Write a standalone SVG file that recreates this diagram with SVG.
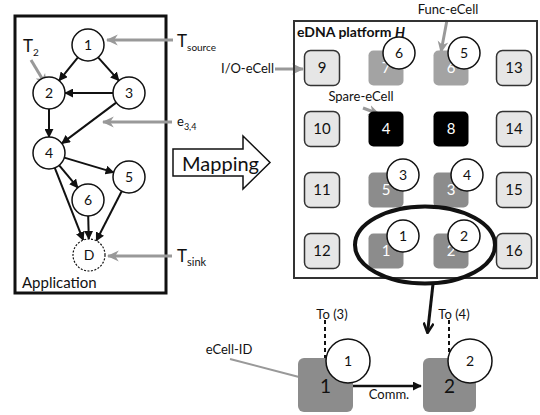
<svg xmlns="http://www.w3.org/2000/svg" width="540" height="415" viewBox="0 0 540 415">
<style>
text{font-family:Lato,"Open Sans","Liberation Sans",sans-serif;fill:#111}
.n{fill:#fff;stroke:#111;stroke-width:1.5}
.nt{font-size:14px;text-anchor:middle}
.e{stroke:#111;stroke-width:2;fill:none;marker-end:url(#ah)}
.g{stroke:#999;stroke-width:3;fill:none;marker-end:url(#gh)}
.lc{fill:#e6e6e6;stroke:#333;stroke-width:1.5}
.gc{fill:#a3a3a3}
.dc{fill:#8c8c8c}
.bc{fill:#000}
.ct{font-size:15px;text-anchor:middle}
.wt{font-size:15px;text-anchor:middle;fill:#fff}
.lbl{font-size:13px}
</style>
<defs>
<marker id="ah" viewBox="0 0 10 10" refX="9" refY="5" markerWidth="9" markerHeight="9" markerUnits="userSpaceOnUse" orient="auto"><path d="M0,0 L10,5 L0,10 z" fill="#111"/></marker>
<marker id="gh" viewBox="0 0 10 10" refX="9" refY="5" markerWidth="12" markerHeight="12" markerUnits="userSpaceOnUse" orient="auto"><path d="M0,0.5 L10,5 L0,9.5 L3,5 z" fill="#999"/></marker>
<marker id="vh" viewBox="0 0 12 12" refX="11" refY="6" markerWidth="12" markerHeight="12" markerUnits="userSpaceOnUse" orient="auto"><path d="M1,1 L11,6 L1,11" fill="none" stroke="#111" stroke-width="2.5"/></marker>
</defs>

<g id="application">
<rect x="15" y="16" width="151" height="277" fill="none" stroke="#111" stroke-width="3"/>
<text x="22" y="288" font-size="15">Application</text>
</g>

<g id="connectors">
<line class="e" x1="77.9" y1="57.4" x2="59.1" y2="80.6"/>
<line class="e" x1="98.1" y1="57.4" x2="118.9" y2="80.6"/>
<line class="e" x1="113" y1="93" x2="65" y2="93"/>
<line class="e" x1="49" y1="109" x2="49" y2="137"/>
<line class="e" x1="116.2" y1="102.6" x2="61.8" y2="143.4"/>
<line class="e" x1="64.3" y1="157.6" x2="113.7" y2="172.4"/>
<line class="e" x1="59.2" y1="165.3" x2="77.8" y2="187.7"/>
<line class="e" x1="54.8" y1="167.9" x2="83.2" y2="240.1"/>
<line class="e" x1="88.2" y1="216" x2="88.8" y2="239"/>
<line class="e" x1="121.7" y1="191.2" x2="96.3" y2="240.8"/>
<line class="g" x1="173" y1="40" x2="107" y2="40"/>
<line class="g" x1="172" y1="122" x2="103" y2="122"/>
<line class="g" x1="172" y1="256" x2="108" y2="256"/>
<line class="g" x1="31" y1="60" x2="46" y2="85"/>
<line class="g" x1="275" y1="69" x2="303" y2="69"/>
<line class="g" x1="447" y1="20" x2="441" y2="52"/>
<line class="g" x1="363" y1="108" x2="379" y2="114"/>
<line x1="433" y1="284" x2="427.5" y2="333" stroke="#111" stroke-width="3" marker-end="url(#vh)"/>
<line x1="230" y1="359" x2="299" y2="377" stroke="#999" stroke-width="2"/>
<line x1="353" y1="386" x2="421" y2="386" stroke="#111" stroke-width="2.5" marker-end="url(#ah)"/>
<line x1="325" y1="320" x2="325" y2="360" stroke="#111" stroke-width="2" stroke-dasharray="4,3"/>
<line x1="449" y1="320" x2="449" y2="360" stroke="#111" stroke-width="2" stroke-dasharray="4,3"/>
</g>

<g id="n1"><circle class="n" cx="88" cy="45" r="16"/><text class="nt" x="88" y="50">1</text></g>
<g id="n2"><circle class="n" cx="49" cy="93" r="16"/><text class="nt" x="49" y="98">2</text></g>
<g id="n3"><circle class="n" cx="129" cy="93" r="16"/><text class="nt" x="129" y="98">3</text></g>
<g id="n4"><circle class="n" cx="49" cy="153" r="16"/><text class="nt" x="49" y="158">4</text></g>
<g id="n5"><circle class="n" cx="129" cy="177" r="16"/><text class="nt" x="129" y="182">5</text></g>
<g id="n6"><circle class="n" cx="88" cy="200" r="16"/><text class="nt" x="88" y="205">6</text></g>
<g id="nD"><circle cx="89" cy="255" r="16" fill="#fff" stroke="#111" stroke-width="1.2" stroke-dasharray="2,1.5"/><text class="nt" x="89" y="260">D</text></g>

<g id="labels">
<text x="177" y="47" font-size="17">T<tspan font-size="10" dy="4">source</tspan></text>
<text x="23" y="52" font-size="17">T<tspan font-size="10" dy="4">2</tspan></text>
<text x="177" y="126" font-size="13">e<tspan font-size="9" dy="4">3,4</tspan></text>
<text x="177" y="262" font-size="17">T<tspan font-size="11" dy="4">sink</tspan></text>
</g>

<g id="mapping">
<polygon points="173,149 243,149 243,136 270,162.5 243,189 243,176 173,176" fill="#fff" stroke="#111" stroke-width="1.5"/>
<text x="182" y="171" font-size="20">Mapping</text>
</g>

<g id="platform">
<rect x="294" y="21" width="243" height="257" fill="none" stroke="#333" stroke-width="2"/>
<text x="297" y="37" font-size="14" font-weight="bold">eDNA platform <tspan font-style="italic">H</tspan></text>
<text x="221" y="73" class="lbl">I/O-eCell</text>
<text x="448" y="14" class="lbl" text-anchor="middle">Func-eCell</text>
<text x="361" y="101" class="lbl" text-anchor="middle">Spare-eCell</text>
</g>

<g id="c9"><rect class="lc" x="304.5" y="50.5" width="35" height="35" rx="6"/><text class="ct" x="322" y="73">9</text></g>
<g id="c10"><rect class="lc" x="304.5" y="111.5" width="35" height="35" rx="6"/><text class="ct" x="322" y="134">10</text></g>
<g id="c11"><rect class="lc" x="304.5" y="172.5" width="35" height="35" rx="6"/><text class="ct" x="322" y="195">11</text></g>
<g id="c12"><rect class="lc" x="304.5" y="233.5" width="35" height="35" rx="6"/><text class="ct" x="322" y="256">12</text></g>
<g id="c13"><rect class="lc" x="496.5" y="50.5" width="35" height="35" rx="6"/><text class="ct" x="514" y="73">13</text></g>
<g id="c14"><rect class="lc" x="496.5" y="111.5" width="35" height="35" rx="6"/><text class="ct" x="514" y="134">14</text></g>
<g id="c15"><rect class="lc" x="496.5" y="172.5" width="35" height="35" rx="6"/><text class="ct" x="514" y="195">15</text></g>
<g id="c16"><rect class="lc" x="496.5" y="233.5" width="35" height="35" rx="6"/><text class="ct" x="514" y="256">16</text></g>

<g id="c7"><rect class="gc" x="368.5" y="50.5" width="35" height="35" rx="5"/><text class="wt" x="386" y="73">7</text><circle class="n" cx="399" cy="53" r="16"/><text class="nt" x="399" y="58">6</text></g>
<g id="c6"><rect class="gc" x="433.5" y="50.5" width="35" height="35" rx="5"/><text class="wt" x="451" y="73">6</text><circle class="n" cx="464" cy="53" r="16"/><text class="nt" x="464" y="58">5</text></g>
<g id="c4"><rect class="bc" x="368.5" y="111.5" width="35" height="35" rx="5"/><text class="wt" x="386" y="134">4</text></g>
<g id="c8"><rect class="bc" x="433.5" y="111.5" width="35" height="35" rx="5"/><text class="wt" x="451" y="134">8</text></g>
<g id="c5"><rect class="dc" x="368.5" y="172.5" width="35" height="35" rx="5"/><text class="wt" x="386" y="195">5</text><circle class="n" cx="403" cy="175" r="16"/><text class="nt" x="403" y="180">3</text></g>
<g id="c3"><rect class="dc" x="433.5" y="172.5" width="35" height="35" rx="5"/><text class="wt" x="451" y="195">3</text><circle class="n" cx="467" cy="175" r="16"/><text class="nt" x="467" y="180">4</text></g>
<g id="c1"><rect class="dc" x="368.5" y="233.5" width="35" height="35" rx="5"/><text class="wt" x="386" y="256">1</text><circle class="n" cx="403" cy="236" r="16"/><text class="nt" x="403" y="241">1</text></g>
<g id="c2"><rect class="dc" x="433.5" y="233.5" width="35" height="35" rx="5"/><text class="wt" x="451" y="256">2</text><circle class="n" cx="464" cy="236" r="16"/><text class="nt" x="464" y="241">2</text></g>

<g id="selection"><ellipse cx="425" cy="245" rx="70" ry="38.5" fill="none" stroke="#111" stroke-width="4"/></g>

<g id="b1"><rect class="dc" x="298" y="358" width="55" height="54" rx="6"/><text x="325.5" y="393" font-size="19" text-anchor="middle" fill="#fff">1</text><circle class="n" cx="348" cy="361" r="22"/><text class="nt" x="348" y="366">1</text></g>
<g id="b2"><rect class="dc" x="423" y="358" width="53" height="54" rx="6"/><text x="449.5" y="393" font-size="19" text-anchor="middle" fill="#fff">2</text><circle class="n" cx="470" cy="361" r="22"/><text class="nt" x="470" y="366">2</text></g>

<g id="bottom-labels">
<text x="332" y="319" class="lbl" text-anchor="middle">To (3)</text>
<text x="454" y="319" class="lbl" text-anchor="middle">To (4)</text>
<text x="229" y="354" font-size="13" text-anchor="middle">eCell-ID</text>
<text x="389" y="399" class="lbl" text-anchor="middle">Comm.</text>
</g>
</svg>
